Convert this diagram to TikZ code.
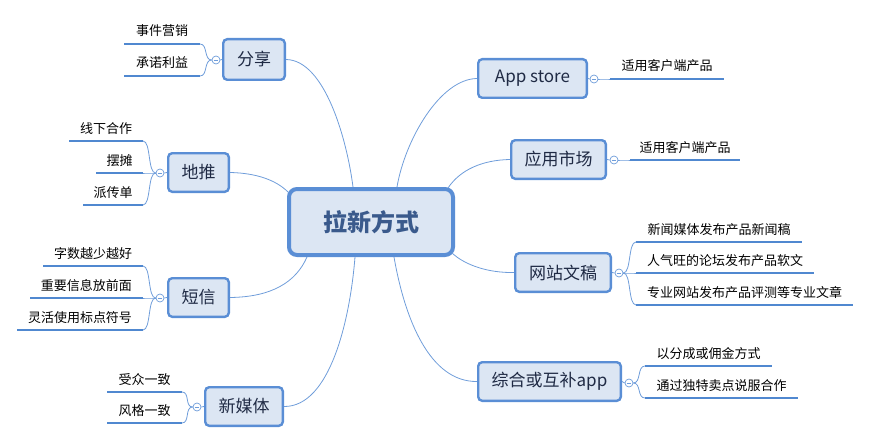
\documentclass[tikz,border=0pt]{standalone}
\usepackage{fontspec}
\newfontfamily\cjk{Noto Sans CJK SC}
\definecolor{boxc}{HTML}{5A8ED5}
\definecolor{fillc}{HTML}{DCE6F3}
\definecolor{linec}{HTML}{6F9DDA}
\definecolor{ulc}{HTML}{5088D0}
\definecolor{textc}{HTML}{1F2A44}
\definecolor{ctextc}{HTML}{3A5A8C}
\begin{document}
\begin{tikzpicture}[x=1pt,y=-1pt,
  mainn/.style={draw=boxc, line width=2.4pt, fill=fillc, rounded corners=4pt, text=textc,
    font=\cjk\fontsize{17}{20}\selectfont, inner sep=0pt},
  centern/.style={draw=boxc, line width=4pt, fill=fillc, rounded corners=8pt, text=ctextc,
    font=\cjk\bfseries\fontsize{24}{28}\selectfont, inner sep=0pt},
  coll/.style={circle, draw=linec, fill=white, line width=0.7pt, minimum size=8pt, inner sep=0pt,
    path picture={\draw[linec, line width=0.7pt] ([xshift=-2.2pt]path picture bounding box.center) -- ([xshift=2.2pt]path picture bounding box.center);}},
  leaf/.style={font=\cjk\fontsize{13}{15}\selectfont, text=black, inner xsep=0pt, inner ysep=0pt,
    text height=10pt, text depth=8pt, anchor=south, outer sep=0pt},
  conn/.style={draw=linec, line width=0.8pt},
  uline/.style={draw=ulc, line width=2.6pt},
]
\useasboundingbox (0,0) rectangle (871,444);

% main nodes
\node[centern, minimum width=164pt, minimum height=66pt] (c) at (371,222) {拉新方式};
\node[mainn, minimum width=61.6pt, minimum height=40.6pt] (share) at (254,59.5) {分享};
\node[mainn, minimum width=60.6pt, minimum height=38.6pt] (ditui) at (198.5,172.5) {地推};
\node[mainn, minimum width=60.6pt, minimum height=38.6pt] (dx) at (198.5,297.5) {短信};
\node[mainn, minimum width=77.6pt, minimum height=38.6pt] (xmt) at (244,406.5) {新媒体};
\node[mainn, minimum width=108.6pt, minimum height=38.6pt] (app) at (532.5,78.5) {App store};
\node[mainn, minimum width=94.6pt, minimum height=38.6pt] (yy) at (558.5,159.5) {应用市场};
\node[mainn, minimum width=95.6pt, minimum height=38.6pt] (wz) at (563,272.5) {网站文稿};
\node[mainn, minimum width=142.6pt, minimum height=38.6pt] (zh) at (549.5,381.5) {综合或互补app};

% connectors from center
\draw[conn] (share.east) .. controls (325,60) and (347,140) .. ([xshift=-18pt]c.north);
\draw[conn] (app.west) .. controls (440,79) and (405,140) .. ([xshift=26pt]c.north);
\draw[conn] (yy.west) .. controls (482,160) and (460,170) .. ([xshift=-7pt,yshift=-1pt]c.north east);
\draw[conn] (ditui.east) .. controls (256,173) and (276,180) .. ([xshift=1pt,yshift=-5pt]c.north west);
\draw[conn] (dx.east) .. controls (272,297) and (296,282) .. ([xshift=-64pt]c.south);
\draw[conn] (xmt.east) .. controls (330,407) and (350,320) .. ([xshift=-16pt]c.south);
\draw[conn] (zh.west) .. controls (430,382) and (405,320) .. ([xshift=23pt]c.south);
\draw[conn] (wz.west) .. controls (490,273) and (466,266) .. ([xshift=-3pt,yshift=4pt]c.south east);

% collapse circles
\node[coll] (sharec) at (216,60) {};
\node[coll] (dituic) at (160,173) {};
\node[coll] (dxc) at (160,298) {};
\node[coll] (xmtc) at (197,407) {};
\node[coll] (appc) at (594,79) {};
\node[coll] (yyc) at (614,160) {};
\node[coll] (wzc) at (619,273) {};
\node[coll] (zhc) at (629,383) {};
\draw[conn] (share.west) -- (sharec.east);
\draw[conn] (ditui.west) -- (dituic.east);
\draw[conn] (dx.west) -- (dxc.east);
\draw[conn] (xmt.west) -- (xmtc.east);
\draw[conn] (app.east) -- (appc.west);
\draw[conn] (yy.east) -- (yyc.west);
\draw[conn] (wz.east) -- (wzc.west);
\draw[conn] (zh.east) -- (zhc.west);

% left leaves
\node[leaf, minimum width=76pt] (s1) at (162,44) {事件营销};
\node[leaf, minimum width=76pt] (s2) at (162,76) {承诺利益};
\node[leaf, minimum width=74pt] (d1) at (106,141) {线下合作};
\node[leaf, minimum width=47pt] (d2) at (119.5,173) {摆摊};
\node[leaf, minimum width=60pt] (d3) at (113,205) {派传单};
\node[leaf, minimum width=100pt] (x1) at (93,266) {字数越少越好};
\node[leaf, minimum width=113pt] (x2) at (86.5,298) {重要信息放前面};
\node[leaf, minimum width=126pt] (x3) at (80,330) {灵活使用标点符号};
\node[leaf, minimum width=75pt] (m1) at (144.5,392) {受众一致};
\node[leaf, minimum width=75pt] (m2) at (144.5,423) {风格一致};

\foreach \n/\p in {s1/sharec,s2/sharec,d1/dituic,d2/dituic,d3/dituic,x1/dxc,x2/dxc,x3/dxc,m1/xmtc,m2/xmtc}{
  \draw[uline] (\n.south west) -- (\n.south east);
  \draw[conn] (\n.south east) .. controls +(8,0) and +(-8,0) .. (\p.west);
}

% right leaves
\node[leaf, minimum width=114pt] (a1) at (667,79) {适用客户端产品};
\node[leaf, minimum width=110pt] (y1) at (685,160) {适用客户端产品};
\node[leaf, minimum width=166pt] (w1) at (719,242) {新闻媒体发布产品新闻稿};
\node[leaf, minimum width=178pt] (w2) at (725,273) {人气旺的论坛发布产品软文};
\node[leaf, minimum width=217pt] (w3) at (744.5,305) {专业网站发布产品评测等专业文章};
\node[leaf, minimum width=127pt] (z1) at (708.5,366) {以分成或佣金方式};
\node[leaf, minimum width=153pt] (z2) at (721.5,398) {通过独特卖点说服合作};

\foreach \n/\p in {a1/appc,y1/yyc,w1/wzc,w2/wzc,w3/wzc,z1/zhc,z2/zhc}{
  \draw[uline] (\n.south west) -- (\n.south east);
  \draw[conn] (\p.east) .. controls +(8,0) and +(-8,0) .. (\n.south west);
}
\end{tikzpicture}
\end{document}
